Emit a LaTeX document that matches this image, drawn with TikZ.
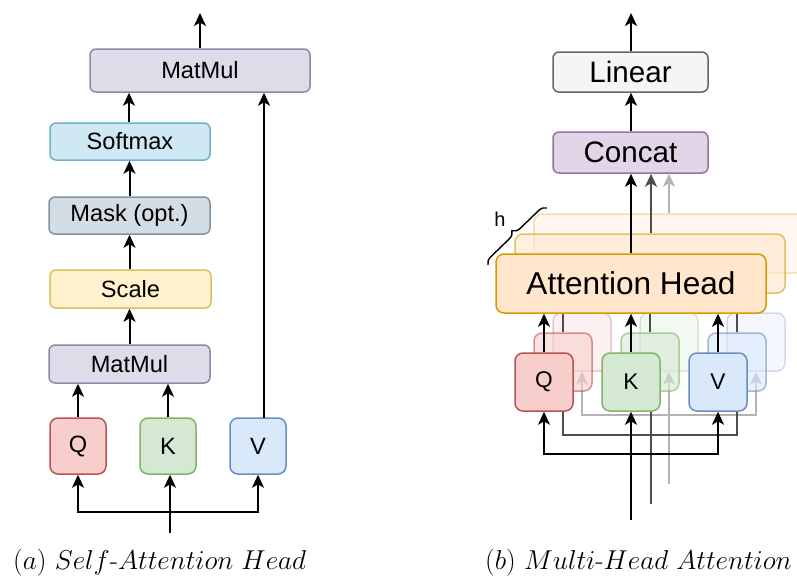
\RequirePackage{fix-cm}
\documentclass[tikz,border=0pt]{standalone}
\usepackage{fontspec}
\setsansfont{Liberation Sans}
\usetikzlibrary{arrows.meta,decorations.pathreplacing}

% box palettes
\definecolor{mmfill}{HTML}{DEDCE9}\definecolor{mmdraw}{HTML}{8E89A9}
\definecolor{smfill}{HTML}{CFE8F3}\definecolor{smdraw}{HTML}{6FB1CC}
\definecolor{mkfill}{HTML}{D5DDE4}\definecolor{mkdraw}{HTML}{7F93A3}
\definecolor{scfill}{HTML}{FFF2CC}\definecolor{scdraw}{HTML}{DCC060}
\definecolor{qfill}{HTML}{F8CECC}\definecolor{qdraw}{HTML}{B85450}
\definecolor{kfill}{HTML}{D5E8D4}\definecolor{kdraw}{HTML}{82B366}
\definecolor{vfill}{HTML}{DAE8FC}\definecolor{vdraw}{HTML}{6C8EBF}
\definecolor{lnfill}{HTML}{F5F5F5}\definecolor{lndraw}{HTML}{666666}
\definecolor{ctfill}{HTML}{E1D5E7}\definecolor{ctdraw}{HTML}{9673A6}
\definecolor{ahfill}{HTML}{FFE6CC}\definecolor{ahdraw}{HTML}{D79B00}
\definecolor{midgrey}{HTML}{4D4D4D}
\definecolor{lightgrey}{HTML}{B3B3B3}

\begin{document}
\begin{tikzpicture}[x=1pt,y=-1pt,
  box/.style={draw, rounded corners=6pt, line width=1.5pt, inner sep=0pt,
    font=\sffamily\fontsize{23.6}{28}\selectfont},
  bigbox/.style={box, font=\sffamily\fontsize{29.6}{34}\selectfont},
  headbox/.style={box, rounded corners=8pt, minimum width=270, minimum height=59,
    fill=ahfill, draw=ahdraw, font=\sffamily\fontsize{31.6}{36}\selectfont},
  inbox/.style={box, rounded corners=8pt, minimum width=56, minimum height=56},
  inboxb/.style={box, rounded corners=8pt, minimum width=58, minimum height=58,
    font=\sffamily\fontsize{22.7}{27}\selectfont},
  qbox/.style={fill=qfill, draw=qdraw},
  kbox/.style={fill=kfill, draw=kdraw},
  vbox/.style={fill=vfill, draw=vdraw},
  tip/.tip={Stealth[length=13pt,width=12pt,inset=3.5pt]},
  arr/.style={-tip, line width=2pt},
  twoarr/.style={tip-tip, line width=2pt},
  layertwo/.style={opacity=0.6},
  layerthree/.style={opacity=0.3},
  caption/.style={anchor=base west, inner sep=0pt, font=\fontsize{27.3}{32}\selectfont}
]
\useasboundingbox (0,0) rectangle (797,579);

% ---------------- (a) self-attention head ----------------
\node[box, fill=mmfill, draw=mmdraw, minimum width=220, minimum height=43] (mmtop) at (200,70.5) {MatMul};
\node[box, fill=smfill, draw=smdraw, minimum width=160, minimum height=37] (soft) at (130,141.5) {Softmax};
\node[box, fill=mkfill, draw=mkdraw, minimum width=161, minimum height=37] (mask) at (129.5,215.5) {Mask (opt.)};
\node[box, fill=scfill, draw=scdraw, minimum width=161, minimum height=38] (scale) at (130.5,289) {Scale};
\node[box, fill=mmfill, draw=mmdraw, minimum width=161, minimum height=38] (mmlow) at (129.5,364) {MatMul};
\node[inbox, qbox] (qa) at (78,446) {Q};
\node[inbox, kbox] (ka) at (168,446) {K};
\node[inbox, vbox] (va) at (258,446) {V};

\coordinate (outa) at (200,13);
\coordinate (ina) at (170,533);
\coordinate (splita) at (170,512);
\coordinate (vtap) at (264,418);

\draw[arr] (mmtop.north) -- (outa);
\draw[arr] (soft.north -| 129,0) -- (mmtop.south -| 129,0);
\draw[arr] (mask.north) -- (soft.south -| mask.north);
\draw[arr] (scale.north -| mask.north) -- (mask.south);
\draw[arr] (mmlow.north) -- (scale.south -| mmlow.north);
\draw[arr] (qa.north) -- (qa.north |- mmlow.south);
\draw[arr] (ka.north) -- (ka.north |- mmlow.south);
\draw[arr] (vtap) -- (vtap |- mmtop.south);
\draw[arr] (ina) -- (ina |- ka.south);
\draw[twoarr] (qa.south) -- (qa.south |- splita) -- (va.south |- splita) -- (va.south);

\node[caption] (capa) at (13,569) {$(a)\ Self$-$Attention\ Head$};

% ---------------- (b) multi-head attention ----------------
\node[bigbox, fill=lnfill, draw=lndraw, minimum width=155, minimum height=40] (lin) at (630.5,72) {Linear};
\node[bigbox, fill=ctfill, draw=ctdraw, minimum width=155, minimum height=41] (cat) at (630.5,152.5) {Concat};
\coordinate (outb) at (631,13);
\draw[arr] (lin.north -| outb) -- (outb);
\draw[arr] (cat.north -| outb) -- (lin.south -| outb);

% third head (furthest back)
\begin{scope}
  \node[headbox, layerthree] (ah3) at (669,243.5) {};
  \node[inboxb, qbox, layerthree] (q3) at (582,342) {};
  \node[inboxb, kbox, layerthree] (k3) at (669,342) {};
  \node[inboxb, vbox, layerthree] (v3) at (756,342) {};
  \coordinate (in3) at (669,484);
  \coordinate (split3) at (669,415);
  \draw[arr, lightgrey, line width=1.5pt] (ah3.north -| in3) -- (cat.south -| in3);
  \draw[arr, lightgrey, line width=1.5pt] (q3.north) -- (q3.north |- ah3.south);
  \draw[arr, lightgrey, line width=1.5pt] (k3.north) -- (k3.north |- ah3.south);
  \draw[arr, lightgrey, line width=1.5pt] (v3.north) -- (v3.north |- ah3.south);
  \draw[arr, lightgrey, line width=1.5pt] (in3) -- (k3.south);
  \draw[twoarr, lightgrey, line width=1.5pt] (q3.south) -- (q3.south |- split3) -- (v3.south |- split3) -- (v3.south);
\end{scope}

% second head
\begin{scope}
  \node[headbox, layertwo] (ah2) at (650,263.5) {};
  \node[inboxb, qbox, layertwo] (q2) at (563,362) {};
  \node[inboxb, kbox, layertwo] (k2) at (650,362) {};
  \node[inboxb, vbox, layertwo] (v2) at (737,362) {};
  \coordinate (in2) at (651,504);
  \coordinate (split2) at (651,435);
  \draw[arr, midgrey, line width=1.5pt] (ah2.north -| in2) -- (cat.south -| in2);
  \draw[arr, midgrey, line width=1.5pt] (q2.north) -- (q2.north |- ah2.south);
  \draw[arr, midgrey, line width=1.5pt] (k2.north) -- (k2.north |- ah2.south);
  \draw[arr, midgrey, line width=1.5pt] (v2.north) -- (v2.north |- ah2.south);
  \draw[arr, midgrey, line width=1.5pt] (in2) -- (in2 |- k2.south);
  \draw[twoarr, midgrey, line width=1.5pt] (q2.south) -- (q2.south |- split2) -- (v2.south |- split2) -- (v2.south);
\end{scope}

% front head
\node[headbox] (ah1) at (631,283.5) {Attention Head};
\node[inboxb, qbox] (q1) at (544,382) {Q};
\node[inboxb, kbox] (k1) at (631,382) {K};
\node[inboxb, vbox] (v1) at (718,382) {V};
\coordinate (in1) at (631,520);
\coordinate (split1) at (631,454);
\draw[arr] (ah1.north) -- (cat.south -| ah1.north);
\draw[arr] (q1.north) -- (q1.north |- ah1.south);
\draw[arr] (k1.north) -- (k1.north |- ah1.south);
\draw[arr] (v1.north) -- (v1.north |- ah1.south);
\draw[arr] (in1) -- (k1.south);
\draw[twoarr] (q1.south) -- (q1.south |- split1) -- (v1.south |- split1) -- (v1.south);

% number of heads
\coordinate (bracelow) at (488,265);
\coordinate (bracehigh) at (547,208);
\draw[decorate, decoration={brace, amplitude=8pt}, line width=1.4pt] (bracelow) -- (bracehigh);
\node[font=\sffamily\fontsize{20}{24}\selectfont, inner sep=0pt] (hlabel) at (500,219) {h};

\node[caption] (capb) at (485,569) {$(b)\ Multi$-$Head\ Attention$};
\end{tikzpicture}
\end{document}
